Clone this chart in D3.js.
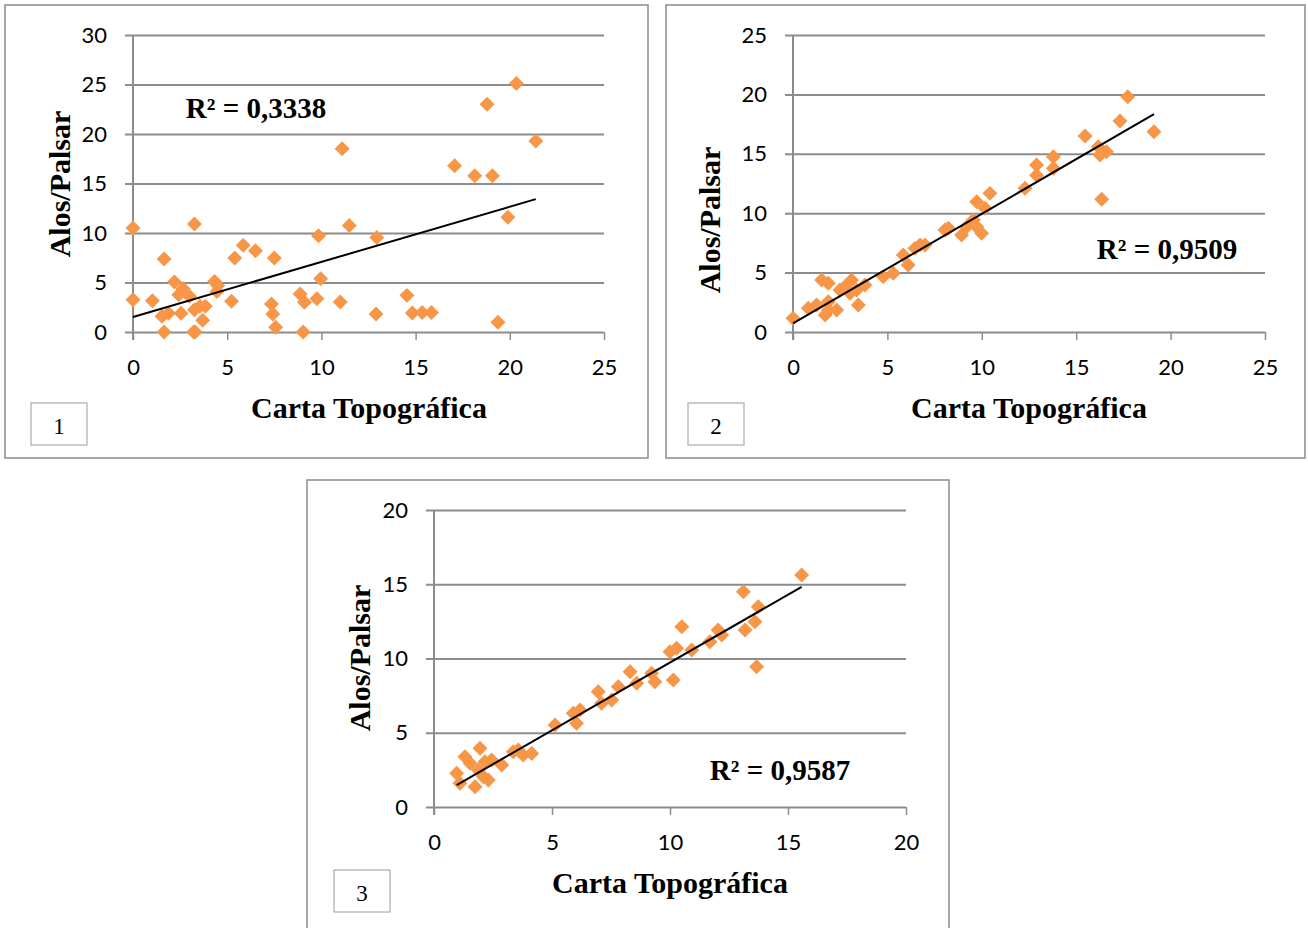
<!DOCTYPE html>
<html>
<head>
<meta charset="utf-8">
<script src="https://cdn.jsdelivr.net/npm/d3@7"></script>
<style>
  body { margin: 0; background: #fff; }
  svg { display: block; }
</style>
</head>
<body>
<div id="chart"></div>
<script>
// chart 1 - Carta Topográfica vs Alos/Palsar
const x1 = [0, 0, 1.03, 1.65, 1.65, 1.54, 1.88, 2.2, 2.43, 2.66, 2.55, 3.0, 3.22, 3.3, 3.26, 3.26, 3.55, 3.7, 3.84,
  4.33, 4.45, 4.5, 5.23, 5.4, 5.85, 6.5, 7.35, 7.42, 7.5, 7.57, 8.87, 9.03, 9.1, 9.76, 9.85, 9.96, 11.0, 11.1,
  11.48, 12.9, 12.94, 14.54, 14.83, 15.35, 15.84, 17.07, 18.14, 18.79, 19.08, 19.37, 19.9, 20.35, 21.38];
const y1 = [10.5, 3.26, 3.16, 7.37, 0, 1.58, 1.9, 5.05, 3.77, 4.37, 1.9, 3.6, 0, 0, 10.9, 2.25, 2.6, 1.18, 2.6,
  5.1, 4.1, 4.7, 3.1, 7.47, 8.75, 8.2, 2.83, 1.82, 7.47, 0.47, 3.83, 0, 3.0, 3.36, 9.72, 5.38, 3.03, 18.5,
  10.76, 1.82, 9.55, 3.7, 1.92, 1.98, 1.98, 16.8, 15.78, 23.0, 15.78, 0.98, 11.6, 25.1, 19.3];

// chart 2
const x2 = [0, 0.81, 1.25, 1.52, 1.87, 1.7, 1.87, 1.87, 2.31, 2.49, 2.75, 3.1, 3.02, 3.46, 3.37, 3.81,
  4.78, 5.31, 5.84, 6.1, 6.46, 6.73, 6.99, 8.05, 8.23, 8.93, 9.2, 9.55, 9.73, 9.99, 9.73, 10.17, 10.43,
  12.29, 12.9, 12.9, 13.79, 13.79, 15.47, 16.17, 16.26, 16.6, 16.35, 17.32, 17.73, 19.12];
const y2 = [1.15, 2.0, 2.27, 4.38, 4.1, 1.43, 1.85, 2.55, 1.85, 3.54, 3.8, 4.38, 3.26, 2.27, 3.54, 3.96,
  4.66, 4.94, 6.48, 5.64, 7.04, 7.32, 7.32, 8.59, 8.73, 8.16, 8.86, 9.43, 8.86, 8.31, 10.97, 10.41, 11.67,
  12.1, 13.2, 14.06, 13.78, 14.76, 16.5, 15.6, 14.9, 15.18, 11.17, 17.76, 19.8, 16.86];

// chart 3
const x3 = [0.96, 1.1, 1.31, 1.53, 1.74, 1.95, 1.88, 2.09, 2.3, 2.16, 2.44, 2.87, 3.36, 3.57, 3.78, 4.14,
  5.13, 5.9, 6.04, 6.19, 6.96, 7.1, 7.53, 7.81, 8.31, 8.59, 9.22, 9.36, 10.14, 10.0, 10.28,
  10.5, 10.92, 11.69, 12.04, 12.19, 13.11, 13.18, 13.6, 13.74, 13.67, 15.58];
const y3 = [2.27, 1.6, 3.39, 2.94, 1.37, 3.95, 2.49, 2.04, 1.82, 3.05, 3.16, 2.83, 3.72, 3.84, 3.5, 3.6,
  5.52, 6.31, 5.64, 6.53, 7.76, 6.98, 7.2, 8.1, 9.11, 8.33, 9.0, 8.44, 8.55, 10.46, 10.69,
  12.14, 10.57, 11.13, 11.92, 11.58, 14.5, 11.92, 12.48, 13.49, 9.45, 15.62];

const r2Labels = ["R² = 0,3338", "R² = 0,9509", "R² = 0,9587"];
// trend line: intercept, slope
const trends = [[1.51, 0.557], [0.73, 0.9215], [0.6, 0.913]];
const xMax = [25, 25, 20];
const yMax = [30, 25, 20];
const panelNames = ["1", "2", "3"];

const W = 1308, H = 928;
const orange = "#F79646", grid = "#8c8c8c";
const serif = "'Liberation Serif', 'Times New Roman', serif";

const svg = d3.select("#chart").append("svg").attr("width", W).attr("height", H);
svg.append("rect").attr("width", W).attr("height", H).attr("fill", "#fff");

const panels = [
  { box: [5, 5, 643, 453], plot: [133, 35, 604, 332], r2: [256, 108], ytitle: [60, 184], xtitle: [369, 408], tag: [31, 403] },
  { box: [666, 5, 639, 453], plot: [793, 35, 1265, 332], r2: [1167, 249], ytitle: [710, 220], xtitle: [1029, 408], tag: [688, 403] },
  { box: [307, 480, 642, 460], plot: [434, 510, 906, 807], r2: [780, 770], ytitle: [360, 658], xtitle: [670, 883], tag: [334, 870] }
];
const xs = [x1, x2, x3], ys = [y1, y2, y3];

panels.forEach((p, i) => {
  const g = svg.append("g");

  g.append("rect")
    .attr("x", p.box[0]).attr("y", p.box[1])
    .attr("width", p.box[2]).attr("height", p.box[3])
    .attr("fill", "none").attr("stroke", "#8a8a8a").attr("stroke-width", 1.5);

  const x = d3.scaleLinear().domain([0, xMax[i]]).range([p.plot[0], p.plot[2]]);
  const y = d3.scaleLinear().domain([0, yMax[i]]).range([p.plot[3], p.plot[1]]);

  // horizontal grid + y ticks
  g.append("g")
    .attr("transform", `translate(${p.plot[0]},0)`)
    .call(d3.axisLeft(y).ticks(yMax[i] / 5).tickSize(-(p.plot[2] - p.plot[0])).tickPadding(26))
    .call(a => a.select(".domain").remove())
    .call(a => a.selectAll("line").attr("stroke", grid).attr("stroke-width", 2).attr("x1", -8))
    .call(a => a.selectAll("text").attr("font-family", "Lato, sans-serif").attr("font-size", 22).attr("fill", "#000"));

  // x axis ticks
  g.append("g")
    .attr("transform", `translate(0,${p.plot[3]})`)
    .call(d3.axisBottom(x).ticks(xMax[i] / 5).tickSize(8).tickPadding(19))
    .call(a => a.select(".domain").remove())
    .call(a => a.selectAll("line").attr("stroke", grid).attr("stroke-width", 1.5))
    .call(a => a.selectAll("text").attr("font-family", "Lato, sans-serif").attr("font-size", 22).attr("fill", "#000"));

  // vertical axis
  g.append("line")
    .attr("x1", p.plot[0]).attr("x2", p.plot[0])
    .attr("y1", p.plot[1]).attr("y2", p.plot[3] + 8)
    .attr("stroke", grid).attr("stroke-width", 2);

  const pts = xs[i].map((v, k) => [v, ys[i][k]]);
  g.selectAll("path.pt")
    .data(pts)
    .join("path")
    .attr("class", "pt")
    .attr("d", d3.symbol(d3.symbolSquare, 112))
    .attr("transform", d => `translate(${x(d[0])},${y(d[1])}) rotate(45)`)
    .attr("fill", orange);

  // trend line over the data range
  const [b, m] = trends[i];
  const ext = d3.extent(xs[i]);
  g.append("line")
    .attr("x1", x(ext[0])).attr("y1", y(b + m * ext[0]))
    .attr("x2", x(ext[1])).attr("y2", y(b + m * ext[1]))
    .attr("stroke", "#000").attr("stroke-width", 2);

  g.append("text")
    .attr("x", p.r2[0]).attr("y", p.r2[1] + 10)
    .attr("text-anchor", "middle")
    .attr("font-family", serif).attr("font-weight", "bold").attr("font-size", 29)
    .text(r2Labels[i]);

  g.append("text")
    .attr("transform", `translate(${p.ytitle[0] + 10},${p.ytitle[1]}) rotate(-90)`)
    .attr("text-anchor", "middle")
    .attr("font-family", serif).attr("font-weight", "bold").attr("font-size", 30)
    .text("Alos/Palsar");

  g.append("text")
    .attr("x", p.xtitle[0]).attr("y", p.xtitle[1] + 10)
    .attr("text-anchor", "middle")
    .attr("font-family", serif).attr("font-weight", "bold").attr("font-size", 30)
    .text("Carta Topográfica");

  g.append("rect")
    .attr("x", p.tag[0]).attr("y", p.tag[1])
    .attr("width", 56).attr("height", 42)
    .attr("fill", "#fff").attr("stroke", "#9a9a9a").attr("stroke-width", 1);
  g.append("text")
    .attr("x", p.tag[0] + 28).attr("y", p.tag[1] + 31)
    .attr("text-anchor", "middle")
    .attr("font-family", serif).attr("font-size", 23)
    .text(panelNames[i]);
});
</script>
</body>
</html>
